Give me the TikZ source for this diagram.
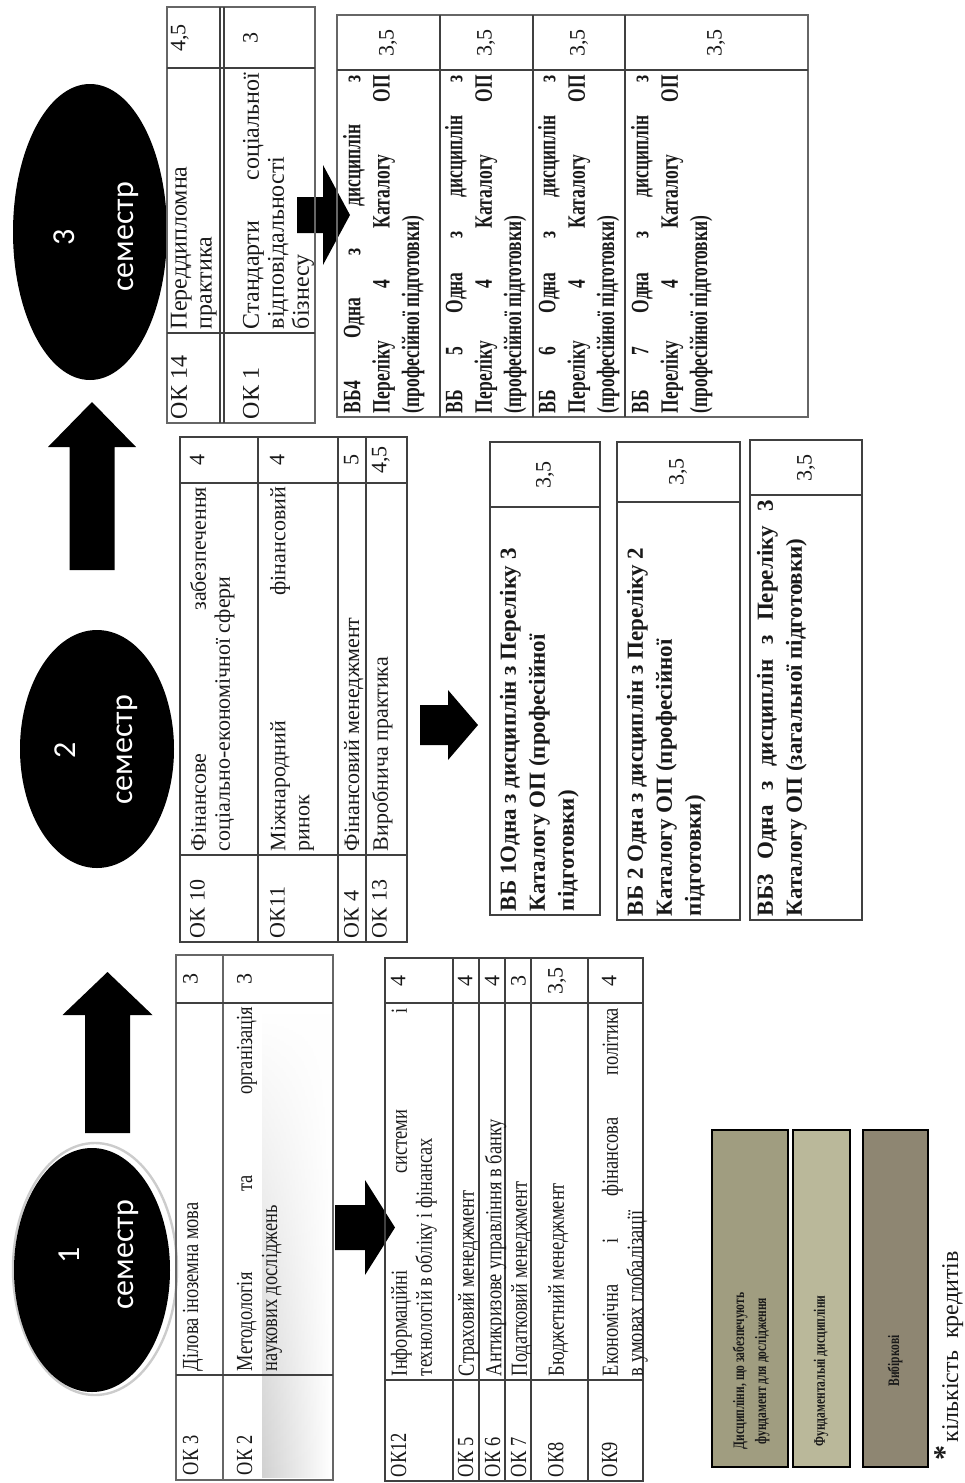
\documentclass[tikz,border=0pt]{standalone}
\usepackage{fontspec}
\setmainfont{Liberation Serif}
\newfontfamily\carl{Carlito}
\newfontfamily\fcond[FakeStretch=0.8]{Liberation Serif}
\newfontfamily\fnarrow[FakeStretch=0.7]{Liberation Serif}
\newfontfamily\fleg[FakeStretch=0.72]{Liberation Serif}
\usetikzlibrary{shapes.geometric,fadings}
\definecolor{legA}{RGB}{160,157,128}
\definecolor{legB}{RGB}{186,184,154}
\definecolor{legC}{RGB}{142,134,114}
\definecolor{ink}{RGB}{25,25,25}
\tikzset{
  tline/.style={draw=black!75, line width=0.7pt},
  thick tline/.style={draw=black!60, line width=1.3pt},
  txt/.style={anchor=north west, inner sep=0pt, outer sep=0pt, align=justify, text=ink},
  cr/.style={anchor=north, inner sep=0pt, outer sep=0pt, align=center, text=ink},
  t3f/.style={font=\fontsize{12}{12.5}\selectfont},
  t2f/.style={font=\fontsize{11}{12}\selectfont},
  t1f/.style={font=\fcond\fontsize{11.5}{12.5}\selectfont},
  vbf/.style={font=\fnarrow\bfseries\fontsize{12.5}{14.7}\selectfont},
  vbtwo/.style={font=\bfseries\fontsize{11.5}{14.5}\selectfont},
  crf/.style={font=\fontsize{11}{12}\selectfont},
  semell/.style={ellipse, fill=black, inner sep=0pt, outer sep=0pt},
  semtxt/.style={anchor=base, inner sep=0pt, text=white, font=\carl\fontsize{16}{16}\selectfont},
  blockarrow/.style={fill=black},
  legbox/.style={draw=black, line width=1.3pt},
  legtxt/.style={inner sep=0pt, align=center, text=ink, font=\fleg\bfseries\fontsize{8}{11}\selectfont},
}
\begin{document}
\begin{tikzpicture}[x=0.5pt,y=0.5pt]
\useasboundingbox (0,0) rectangle (964,-1483);
\fill[white] (0,0) rectangle (964,-1483);
\begin{scope}[shift={(0,-1483)},rotate=90,transform shape]
% ---------- semester ellipses ----------
\node[ellipse, draw=gray!40, line width=1.2pt, minimum width=126pt, minimum height=82pt, inner sep=0pt] (e1ring) at (214,-95) {};
\node[semell, minimum width=122pt, minimum height=78pt] (e1) at (213,-92) {};
\node[semtxt] (e1n) at (228,-79) {1};
\node[semtxt] (e1s) at (228,-133) {семестр};
\node[semell, minimum width=119pt, minimum height=77pt] (e2) at (734,-97) {};
\node[semtxt] (e2n) at (733,-75) {2};
\node[semtxt] (e2s) at (733,-132) {семестр};
\node[semell, minimum width=148pt, minimum height=77pt] (e3) at (1251,-90) {};
\node[semtxt] (e3n) at (1246,-74) {3};
\node[semtxt] (e3s) at (1246,-133) {семестр};
% ---------- big arrows ----------
\fill[blockarrow] (350,-85) -- (468,-85) -- (468,-62.5) -- (511,-107.5) -- (468,-152.5) -- (468,-130) -- (350,-130) -- cycle;
\fill[blockarrow] (913,-69.5) -- (1036,-69.5) -- (1036,-48) -- (1081,-92) -- (1036,-136) -- (1036,-114.5) -- (913,-114.5) -- cycle;
% ---------- small arrows ----------
\fill[blockarrow] (233,-335) -- (278,-335) -- (278,-365) -- (303,-365) -- (255.5,-395) -- (208,-365) -- (233,-365) -- cycle;
\fill[blockarrow] (738,-420) -- (778,-420) -- (778,-448) -- (793,-448) -- (758,-478) -- (723,-448) -- (738,-448) -- cycle;
\fill[blockarrow] (1250,-297) -- (1286,-297) -- (1286,-323) -- (1318,-323) -- (1268,-350) -- (1218,-323) -- (1250,-323) -- cycle;
% ---------- table 1 (sem 1, upper) ----------
\shade[left color=black!18, right color=white, path fading=north] (6,-262) rectangle (470,-331);
\draw[thick tline] (3,-176) rectangle (528,-333);
\draw[thick tline] (3,-223) -- (528,-223);
\draw[tline] (108,-176) -- (108,-333);
\draw[tline] (480,-176) -- (480,-333);
\node[txt,t1f,text width=46pt] (a1l) at (8,-183) {ОК 3};
\node[txt,t1f,text width=182pt] (a1t) at (112,-183) {Ділова іноземна мова};
\node[cr,crf] (a1c) at (504,-183) {3};
\node[txt,t1f,text width=46pt] (a2l) at (8,-237) {ОК 2};
\node[txt,t1f,text width=182pt] (a2t) at (112,-237) {Методологія та організація\linebreak наукових досліджень};
\node[cr,crf] (a2c) at (504,-237) {3};
% ---------- table 1b (sem 1, lower) ----------
\draw[tline] (2,-385) rectangle (525,-643);
\foreach \v in {453,479,505,531,588} \draw[tline] (2,-\v) -- (525,-\v);
\draw[tline] (103,-385) -- (103,-643);
\draw[tline] (480,-385) -- (480,-643);
\node[txt,t1f,text width=46pt] (b1l) at (6,-391) {ОК12};
\node[txt,t1f,text width=184pt] (b1t) at (107,-391) {Інформаційні системи і\linebreak технологій в обліку і фінансах};
\node[cr,crf] (b1c) at (502,-391) {4};
\node[txt,t1f,text width=46pt] (b2l) at (6,-458) {ОК 5};
\node[txt,t1f,text width=184pt] (b2t) at (107,-458) {Страховий менеджмент};
\node[cr,crf] (b2c) at (502,-458) {4};
\node[txt,t1f,text width=46pt] (b3l) at (6,-485) {ОК 6};
\node[txt,t1f,text width=184pt] (b3t) at (107,-485) {Антикризове управління в банку};
\node[cr,crf] (b3c) at (502,-485) {4};
\node[txt,t1f,text width=46pt] (b4l) at (6,-511) {ОК 7};
\node[txt,t1f,text width=184pt] (b4t) at (107,-511) {Податковий менеджмент};
\node[cr,crf] (b4c) at (502,-511) {3};
\node[txt,t1f,text width=46pt] (b5l) at (6,-548) {ОК8};
\node[txt,t1f,text width=184pt] (b5t) at (107,-548) {Бюджетний менеджмент};
\node[cr,crf] (b5c) at (502,-548) {3,5};
\node[txt,t1f,text width=46pt] (b6l) at (6,-602) {ОК9};
\node[txt,t1f,text width=184pt] (b6t) at (107,-602) {Економічна і фінансова політика\linebreak в умовах глобалізації};
\node[cr,crf] (b6c) at (502,-602) {4};
% ---------- table 2 (sem 2, upper) ----------
\draw[tline] (541,-180) rectangle (1046,-407);
\foreach \v in {258,338,366} \draw[tline] (541,-\v) -- (1046,-\v);
\draw[tline] (628,-180) -- (628,-407);
\draw[tline] (1000,-180) -- (1000,-407);
\node[txt,t2f,text width=40pt] (c1l) at (545,-190) {ОК 10};
\node[txt,t2f,text width=182pt] (c1t) at (632,-190) {Фінансове забезпечення\linebreak соціально-економічної сфери};
\node[cr,crf] (c1c) at (1023,-190) {4};
\node[txt,t2f,text width=40pt] (c2l) at (545,-270) {ОК11};
\node[txt,t2f,text width=182pt] (c2t) at (632,-270) {Міжнародний фінансовий\linebreak ринок};
\node[cr,crf] (c2c) at (1023,-270) {4};
\node[txt,t2f,text width=40pt] (c3l) at (545,-344) {ОК 4};
\node[txt,t2f,text width=182pt] (c3t) at (632,-344) {Фінансовий менеджмент};
\node[cr,crf] (c3c) at (1023,-344) {5};
\node[txt,t2f,text width=40pt] (c4l) at (545,-372) {ОК 13};
\node[txt,t2f,text width=182pt] (c4t) at (632,-372) {Виробнича практика};
\node[cr,crf] (c4c) at (1023,-372) {4,5};
% ---------- sem 2 elective boxes ----------
\draw[tline] (568,-490) rectangle (1041,-600);
\draw[tline] (976,-490) -- (976,-600);
\node[txt,vbtwo,text width=200pt] (d1t) at (572,-500) {ВБ 1Одна з дисциплін з Переліку 3\\Каталогу ОП (професійної\\підготовки)};
\node[crf,inner sep=0pt,text=ink] (d1c) at (1008,-545) {3,5};
\draw[tline] (563,-617) rectangle (1041,-740);
\draw[tline] (981,-617) -- (981,-740);
\node[txt,vbtwo,text width=205pt] (d2t) at (567,-627) {ВБ 2 Одна з дисциплін з Переліку 2\\Каталогу ОП (професійної\\підготовки)};
\node[crf,inner sep=0pt,text=ink] (d2c) at (1011,-678) {3,5};
\draw[tline] (563,-750) rectangle (1043,-862);
\draw[tline] (988,-750) -- (988,-862);
\node[txt,vbtwo,text width=208pt] (d3t) at (567,-757) {ВБ3 Одна з дисциплін з Переліку 3\linebreak Каталогу ОП (загальної підготовки)};
\node[crf,inner sep=0pt,text=ink] (d3c) at (1015,-806) {3,5};
% ---------- table 3 (sem 3, upper) ----------
\draw[thick tline] (1060,-167) rectangle (1476,-315);
\draw[tline] (1060,-220) -- (1476,-220);
\draw[tline] (1060,-224) -- (1476,-224);
\draw[tline] (1150,-167) -- (1150,-315);
\draw[tline] (1415,-167) -- (1415,-315);
\node[txt,t3f,text width=42pt] (f1l) at (1064,-171) {ОК 14};
\node[txt,t3f,text width=128pt] (f1t) at (1154,-171) {Переддипломна\\практика};
\node[cr,crf] (f1c) at (1445,-171) {4,5};
\node[txt,t3f,text width=42pt] (f2l) at (1064,-243) {ОК 1};
\node[txt,t3f,text width=128pt] (f2t) at (1154,-243) {Стандарти соціальної\linebreak відповідальності\\бізнесу};
\node[cr,crf] (f2c) at (1445,-243) {3};
% ---------- table 3b (sem 3, electives) ----------
\draw[thick tline] (1066,-337) rectangle (1468,-808);
\foreach \v in {440,533,625} \draw[tline] (1066,-\v) -- (1468,-\v);
\draw[tline] (1413,-337) -- (1413,-808);
\node[txt,vbf,text width=169pt] (g1t) at (1070,-343) {ВБ4 Одна з дисциплін з\linebreak Переліку 4 Каталогу ОП\linebreak (професійної підготовки)};
\node[crf,inner sep=0pt,text=ink] (g1c) at (1440,-388) {3,5};
\node[txt,vbf,text width=169pt] (g2t) at (1070,-445) {ВБ 5 Одна з дисциплін з\linebreak Переліку 4 Каталогу ОП\linebreak (професійної підготовки)};
\node[crf,inner sep=0pt,text=ink] (g2c) at (1440,-486) {3,5};
\node[txt,vbf,text width=169pt] (g3t) at (1070,-538) {ВБ 6 Одна з дисциплін з\linebreak Переліку 4 Каталогу ОП\linebreak (професійної підготовки)};
\node[crf,inner sep=0pt,text=ink] (g3c) at (1440,-579) {3,5};
\node[txt,vbf,text width=169pt] (g4t) at (1070,-631) {ВБ 7 Одна з дисциплін з\linebreak Переліку 4 Каталогу ОП\linebreak (професійної підготовки)};
\node[crf,inner sep=0pt,text=ink] (g4c) at (1440,-716) {3,5};
% ---------- legend ----------
\draw[legbox, fill=legA] (16,-712) rectangle (353,-788);
\node[legtxt] (l1) at (112,-751) {Дисципліни, що забезпечують\\фундамент для дослідження};
\draw[legbox, fill=legB] (16,-793) rectangle (353,-850);
\node[legtxt] (l2) at (112,-821) {Фундаментальні дисципліни};
\draw[legbox, fill=legC] (16,-863) rectangle (353,-928);
\node[legtxt] (l3) at (122,-895) {Вибіркові};
% ---------- footnote ----------
\node[inner sep=0pt, font=\bfseries\fontsize{15}{15}\selectfont, text=ink] (ast) at (30,-945) {*};
\node[anchor=base west, inner sep=0pt, font=\fontsize{12}{13}\selectfont, text=ink] (fn) at (40,-958) {кількість\ \ кредитів};
\end{scope}
\end{tikzpicture}
\end{document}
